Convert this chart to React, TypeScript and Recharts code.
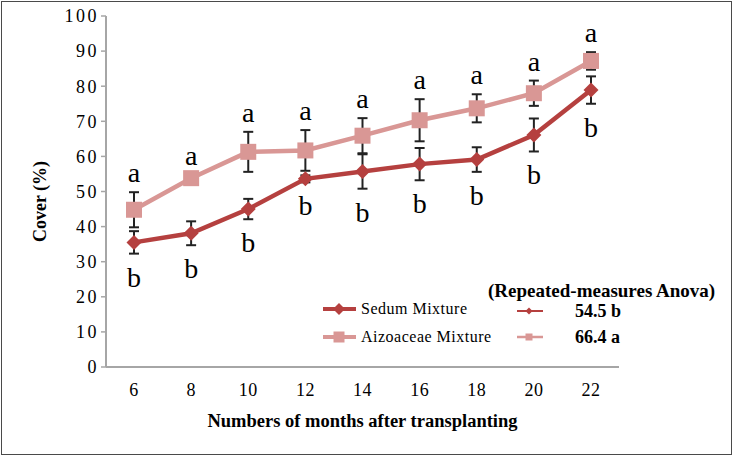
import React from 'react';
import { LineChart, Line, XAxis, YAxis, ErrorBar, LabelList, Label } from 'recharts';

const months = ['6', '8', '10', '12', '14', '16', '18', '20', '22'];
const sedum = [35.5, 38.1, 45.0, 53.6, 55.7, 57.8, 59.1, 66.1, 78.9];
const sedumErr = [3.2, 3.4, 2.9, 1.0, 4.9, 4.6, 3.5, 4.7, 3.9];
const aizo = [44.8, 53.8, 61.3, 61.7, 65.9, 70.3, 73.7, 78.0, 87.2];
const aizoErr = [5.0, 1.0, 5.7, 5.8, 5.0, 6.0, 4.0, 3.6, 2.5];
const aizoSig = ['a', 'a', 'a', 'a', 'a', 'a', 'a', 'a', 'a'];
const sedumSig = ['b', 'b', 'b', 'b', 'b', 'b', 'b', 'b', 'b'];
const yTicks = [0, 10, 20, 30, 40, 50, 60, 70, 80, 90, 100];
const anovaMeans = ['54.5 b', '66.4 a'];

const data = months.map((m, i) => ({
  month: m,
  sedum: sedum[i],
  sedumErr: sedumErr[i],
  aizo: aizo[i],
  aizoErr: aizoErr[i],
  aTop: aizo[i] + aizoErr[i],
  bBottom: sedum[i] - sedumErr[i],
}));

const DARK = '#B5403F';
const PINK = '#D99795';
const AXIS = '#A6A6A6';
const FONT = '"Liberation Serif", "DejaVu Serif", serif';

const Diamond = ({ cx, cy, size = 7.5, fill }: any) =>
  cx == null ? null : (
    <path d={`M${cx},${cy - size}L${cx + size},${cy}L${cx},${cy + size}L${cx - size},${cy}Z`} fill={fill} />
  );

const Square = ({ cx, cy, s = 8, fill }: any) =>
  cx == null ? null : <rect x={cx - s} y={cy - s} width={s * 2} height={s * 2} fill={fill} />;

const sigLabel = (letters: string[], dy: number) => (props: any) => {
  const { x, y, index } = props;
  return (
    <text x={x} y={y + dy} textAnchor="middle" fontSize={28} fontFamily={FONT} fill="#000">
      {letters[index]}
    </text>
  );
};

// y axis title, rotated, a bit below the plot centre like the original
const YTitle = (props: any) => {
  const { viewBox } = props;
  const cx = 40;
  const cy = viewBox.y + viewBox.height / 2 + 10;
  return (
    <text
      x={cx}
      y={cy}
      transform={`rotate(-90 ${cx} ${cy})`}
      textAnchor="middle"
      dominantBaseline="central"
      fontSize={18}
      fontWeight="bold"
      fontFamily={FONT}
      fill="#000"
    >
      Cover (%)
    </text>
  );
};

// legend + anova summary, drawn over the chart
const LegendBox = () => (
  <svg width={735} height={456} style={{ position: 'absolute', left: 0, top: 0, pointerEvents: 'none' }}>
    <g fontFamily={FONT}>
      <line x1={323} x2={356} y1={309} y2={309} stroke={DARK} strokeWidth={4} />
      <Diamond cx={339} cy={309} size={6} fill={DARK} />
      <text x={361} y={314} fontSize={16} letterSpacing={0.5}>Sedum Mixture</text>
      <line x1={323} x2={356} y1={337} y2={337} stroke={PINK} strokeWidth={4} />
      <Square cx={339} cy={337} s={5.5} fill={PINK} />
      <text x={361} y={342} fontSize={16} letterSpacing={0.5}>Aizoaceae Mixture</text>

      <text x={488} y={297} fontSize={19} fontWeight="bold">(Repeated-measures Anova)</text>
      <line x1={517} x2={543} y1={311} y2={311} stroke={DARK} strokeWidth={2} />
      <Diamond cx={529} cy={311} size={3.5} fill={DARK} />
      <text x={575} y={317} fontSize={18} fontWeight="bold">{anovaMeans[0]}</text>
      <line x1={517} x2={543} y1={337} y2={337} stroke={PINK} strokeWidth={2.5} />
      <Square cx={529} cy={337} s={3.5} fill={PINK} />
      <text x={575} y={343} fontSize={18} fontWeight="bold">{anovaMeans[1]}</text>
    </g>
  </svg>
);

export default function App() {
  return (
    <div style={{ position: 'relative', width: 735, height: 456, background: '#fff' }}>
      <style>{'body{margin:0}'}</style>
      <LineChart
        width={735}
        height={456}
        data={data}
        margin={{ top: 16, right: 116, left: 0, bottom: 0 }}
        style={{ fontFamily: FONT }}
      >
        <XAxis
          dataKey="month"
          padding={{ left: 28, right: 28 }}
          height={89}
          tickLine={false}
          tickSize={0}
          tickMargin={16}
          axisLine={{ stroke: AXIS, strokeWidth: 2 }}
          tick={{ fontSize: 18, fill: '#000', fontFamily: FONT, letterSpacing: 0.5 }}
        >
          <Label
            value="Numbers of months after transplanting"
            position="insideBottom"
            offset={29}
            style={{ fontSize: 18.5, fontWeight: 'bold', fill: '#000', fontFamily: FONT }}
          />
        </XAxis>
        <YAxis
          domain={[0, 100]}
          ticks={yTicks}
          width={106}
          interval={0}
          tickSize={5}
          tickMargin={2}
          tickLine={{ stroke: AXIS, strokeWidth: 1.5 }}
          axisLine={{ stroke: AXIS, strokeWidth: 2 }}
          tick={{ fontSize: 18, fill: '#000', fontFamily: FONT, letterSpacing: 2.5 }}
        >
          <Label content={<YTitle />} />
        </YAxis>
        <Line
          dataKey="aizo"
          stroke={PINK}
          strokeWidth={4.5}
          dot={<Square fill={PINK} />}
          activeDot={false}
          isAnimationActive={false}
        >
          <ErrorBar dataKey="aizoErr" width={5} stroke="#222" strokeWidth={2} direction="y" />
        </Line>
        <Line
          dataKey="sedum"
          stroke={DARK}
          strokeWidth={4.5}
          dot={<Diamond fill={DARK} />}
          activeDot={false}
          isAnimationActive={false}
        >
          <ErrorBar dataKey="sedumErr" width={5} stroke="#222" strokeWidth={2} direction="y" />
        </Line>
        <Line dataKey="aTop" stroke="none" dot={false} activeDot={false} legendType="none" isAnimationActive={false}>
          <LabelList dataKey="aTop" content={sigLabel(aizoSig, -10)} />
        </Line>
        <Line dataKey="bBottom" stroke="none" dot={false} activeDot={false} legendType="none" isAnimationActive={false}>
          <LabelList dataKey="bBottom" content={sigLabel(sedumSig, 33)} />
        </Line>
      </LineChart>
      <LegendBox />
      <div
        style={{
          position: 'absolute',
          left: 1,
          top: 1,
          width: 729,
          height: 452,
          border: '1.5px solid #4a4a4a',
          pointerEvents: 'none',
        }}
      />
    </div>
  );
}
